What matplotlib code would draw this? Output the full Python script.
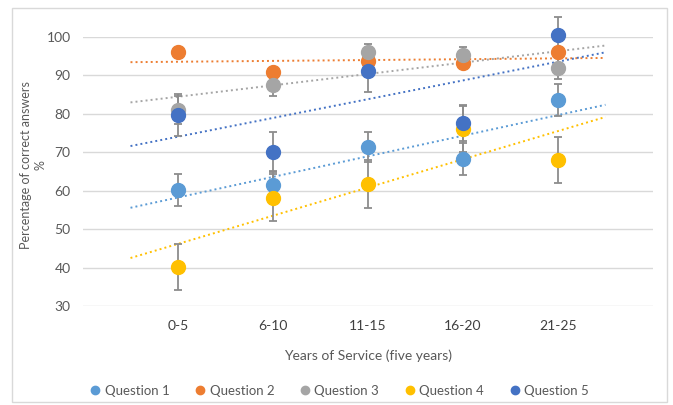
import numpy as np
import matplotlib
matplotlib.use("Agg")
import matplotlib.pyplot as plt
from matplotlib.lines import Line2D
from matplotlib.patches import Rectangle

plt.rcParams['font.family'] = ['Lato', 'DejaVu Sans']

groups = ['0-5', '6-10', '11-15', '16-20', '21-25']
series_names = ['Question 1', 'Question 2', 'Question 3', 'Question 4', 'Question 5']
colors = ['#5B9BD5', '#ED7D31', '#A5A5A5', '#FFC000', '#4472C4']

q1 = [60.2, 61.4, 71.4, 68.2, 83.6]
q2 = [96.2, 90.8, 93.7, 93.2, 96.1]
q3 = [81.0, 87.6, 96.0, 95.4, 91.9]
q4 = [40.2, 58.2, 61.8, 76.0, 68.0]
q5 = [79.7, 70.2, 91.2, 77.6, 100.4]

q1_err = [4.2, 3.8, 4.0, 4.1, 4.2]
q2_err = [0.8, 0.8, 0.8, 0.8, 0.8]
q3_err = [3.6, 3.0, 2.3, 2.1, 2.8]
q4_err = [6.0, 6.1, 6.2, 6.0, 6.0]
q5_err = [5.4, 5.2, 5.6, 4.7, 4.8]

values = [q1, q2, q3, q4, q5]
errors = [q1_err, q2_err, q3_err, q4_err, q5_err]

fig = plt.figure(figsize=(6.73, 4.05), dpi=100)
fig.patches.append(Rectangle((12 / 673, 1 - 402 / 405), 655 / 673, 394 / 405,
                             transform=fig.transFigure, fill=False,
                             edgecolor='#D9D9D9', linewidth=1))

ax = fig.add_axes([83 / 673, 1 - 306 / 405, 570 / 673, 269 / 405])

x = np.arange(1, len(groups) + 1)
x_trend = np.array([0.5, 5.5])

for vals, errs, color, name in zip(values, errors, colors, series_names):
    # linear trendline, extended half a step on both ends
    slope, intercept = np.polyfit(x, vals, 1)
    ax.plot(x_trend, slope * x_trend + intercept, linestyle=(0, (1, 1.6)),
            color=color, linewidth=1.4, zorder=2)
    ax.errorbar(x, vals, yerr=errs, fmt='none', ecolor='#8C8C8C',
                elinewidth=1.3, capsize=3, capthick=1.3, zorder=3, clip_on=False)
    ax.plot(x, vals, 'o', color=color, markersize=10, zorder=4, label=name,
            clip_on=False)

ax.set_xlim(0, 6)
ax.set_ylim(30, 100)
ax.set_yticks(range(30, 101, 10))
ax.set_xticks(x)
ax.set_xticklabels(groups)
ax.grid(axis='y', color='#D9D9D9', linewidth=1)
ax.set_axisbelow(True)
for spine in ax.spines.values():
    spine.set_visible(False)
ax.tick_params(length=0)
ax.tick_params(axis='y', labelsize=10, labelcolor='#595959', pad=9)
ax.tick_params(axis='x', labelsize=10, labelcolor='#404040', pad=10)

ax.set_xlabel('Years of Service (five years)', fontsize=10, color='#595959', labelpad=13)
fig.text(33 / 673, 1 - 165 / 405, 'Percentage of correct answers\n%', rotation=90,
         ha='center', va='center', multialignment='center', fontsize=9,
         color='#595959', linespacing=1.25)

handles = [Line2D([], [], marker='o', linestyle='none', color=c, markersize=6)
           for c in colors]
fig.legend(handles, series_names, loc='center', bbox_to_anchor=(340 / 673, 1 - 391 / 405),
           ncol=5, frameon=False, fontsize=9.5, handlelength=0.7, handletextpad=0.35,
           columnspacing=2.0, labelcolor='#595959')

fig.savefig('out.png', dpi=100)
